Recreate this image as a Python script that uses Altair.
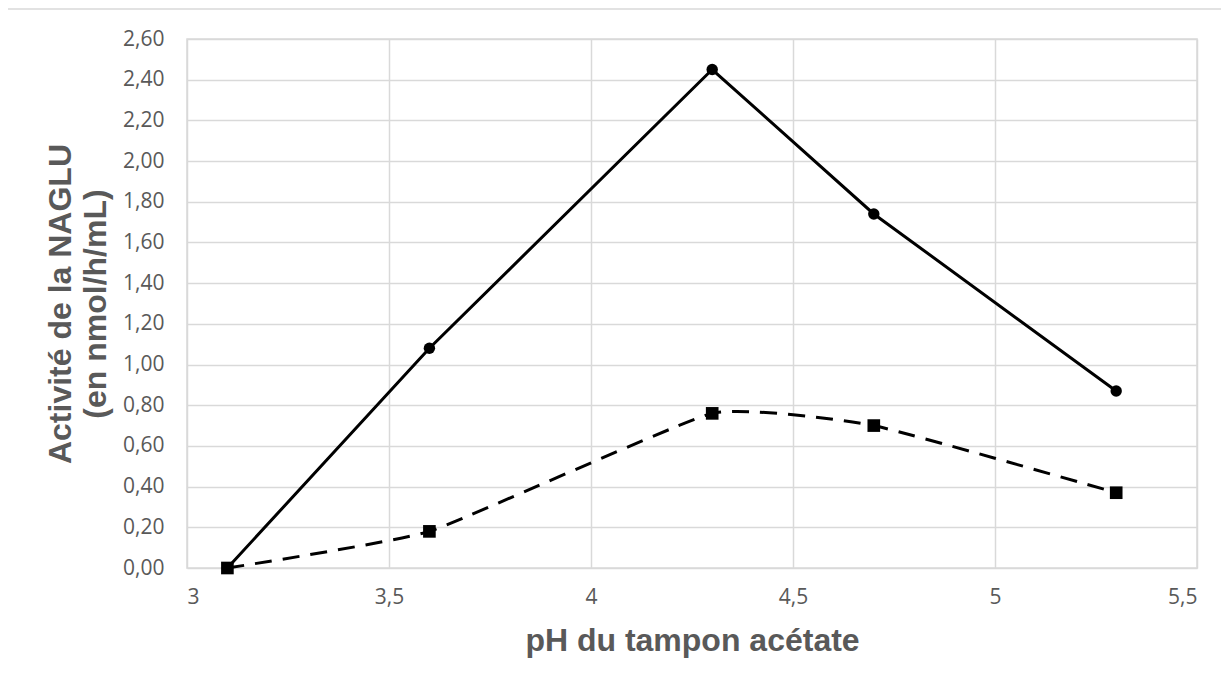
import altair as alt
import pandas as pd

ph = [3.1, 3.6, 4.3, 4.7, 5.3]
serie_a = [0.0, 1.08, 2.45, 1.74, 0.87]
serie_b = [0.0, 0.18, 0.76, 0.70, 0.37]

df_a = pd.DataFrame({"ph": ph, "v": serie_a})
df_b = pd.DataFrame({"ph": ph, "v": serie_b})

W, H = 1010, 529

xenc = alt.X("ph:Q", scale=alt.Scale(domain=[3, 5.5], nice=False),
             axis=alt.Axis(values=[3, 3.5, 4, 4.5, 5, 5.5],
                           labelExpr="replace(format(datum.value, ''), '.', ',')",
                           title="pH du tampon acétate"))
yenc = alt.Y("v:Q", scale=alt.Scale(domain=[0, 2.6], nice=False),
             axis=alt.Axis(values=[round(i * 0.2, 1) for i in range(14)],
                           labelExpr="replace(format(datum.value, '.2f'), '.', ',')",
                           title=["Activité de la NAGLU", "(en nmol/h/mL)"],
                           titleLineHeight=35))

line_a = alt.Chart(df_a).mark_line(color="black", strokeWidth=3).encode(x=xenc, y=yenc)
pts_a = alt.Chart(df_a).mark_point(shape="circle", filled=True, color="black", size=130, opacity=1).encode(x=xenc, y=yenc)
line_b = alt.Chart(df_b).mark_line(color="black", strokeWidth=3, strokeDash=[17, 11],
                                   interpolate="cardinal", tension=0.6).encode(x=xenc, y=yenc)
pts_b = alt.Chart(df_b).mark_point(shape="square", filled=True, color="black", size=160, opacity=1).encode(x=xenc, y=yenc)

frame = alt.Chart(pd.DataFrame({"a": [0]})).mark_rect(fill=None, stroke="#d9d9d9", strokeWidth=1.5).encode(
    x=alt.value(-180), x2=alt.value(1060), y=alt.value(-30), y2=alt.value(680))

chart = alt.layer(frame, line_a, line_b, pts_a, pts_b).properties(
    width=W, height=H,
    autosize=alt.AutoSizeParams(type="none"),
    padding={"left": 179, "top": 31, "right": 24, "bottom": 108},
).configure_view(stroke="#d9d9d9", strokeWidth=1.5).configure_axis(
    grid=True, gridColor="#d9d9d9", gridWidth=1.5,
    domain=False, ticks=False,
    labelFont="Open Sans", labelFontSize=21, labelColor="#595959",
    titleFont="Liberation Sans", titleFontSize=32, titleFontWeight="bold", titleColor="#595959",
).configure_axisX(labelPadding=18, titlePadding=18).configure_axisY(labelPadding=23, titlePadding=10)

chart.save("out.html", embed_options={"renderer": "svg", "actions": False})
